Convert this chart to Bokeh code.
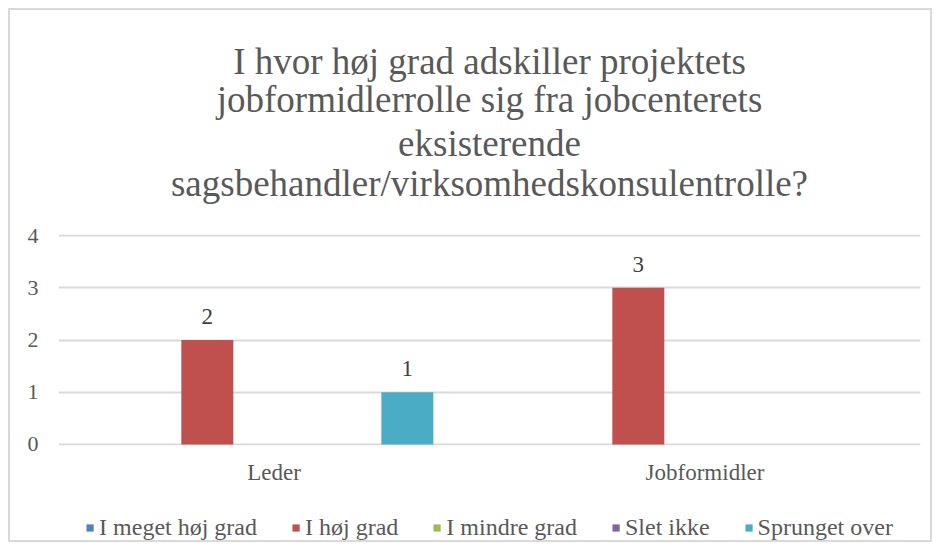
from bokeh.plotting import figure
from bokeh.models import ColumnDataSource, FactorRange, Range1d, LabelSet, Title, Legend
from bokeh.transform import dodge
from bokeh.embed import file_html
from bokeh.resources import INLINE

categories = ["Leder", "Jobformidler"]
series_names = ["I meget høj grad", "I høj grad", "I mindre grad", "Slet ikke", "Sprunget over"]
series_values = {
    "I meget høj grad": [0, 0],
    "I høj grad": [2, 3],
    "I mindre grad": [0, 0],
    "Slet ikke": [0, 0],
    "Sprunget over": [1, 0],
}
colors = ["#4F81BD", "#C0504D", "#9BBB59", "#8064A2", "#4BACC6"]
title_lines = [
    "I hvor høj grad adskiller projektets",
    "jobformidlerrolle sig fra jobcenterets",
    "eksisterende",
    "sagsbehandler/virksomhedskonsulentrolle?",
]
y_ticks = [0, 1, 2, 3, 4]

FONT = "Liberation Serif"
TXT = "#595959"

p = figure(x_range=FactorRange(*categories, range_padding=0), y_range=Range1d(-0.02, 4.02),
           frame_width=862, frame_height=211, output_backend="svg", toolbar_location=None,
           min_border_left=48, min_border_right=10, min_border_top=224, min_border_bottom=100)
p.styles = {"border": "2px solid #d9d9d9", "margin": "8px 0 0 8px",
            "max-height": "534px", "overflow": "hidden"}

# spacer between the plot frame and the title block
p.add_layout(Title(text=" ", text_font_size="26px", standoff=0, offset=0), "above")

p.title.text = title_lines[0]
for line in reversed(title_lines[1:]):
    p.add_layout(Title(text=line), "above")
title_objs = [a for a in p.above if isinstance(a, Title) and a.text.strip()]
for t in [p.title] + title_objs:
    t.align = "center"
    t.text_font = FONT
    t.text_font_size = "37px"
    t.text_font_style = "normal"
    t.text_color = TXT
    t.standoff = 0
    t.offset = -10
# fine vertical spacing of the title lines (line 4, 3, 2 from the frame upward; line 1 outermost)
line_standoffs = [-2, -4, 6]
for t, s in zip(title_objs, line_standoffs):
    t.standoff = s
p.title.standoff = -16

source_data = {"cat": categories}
for name in series_names:
    source_data[name] = series_values[name]
source = ColumnDataSource(source_data)

slot = 0.1547
bar_w = 0.1206
n = len(series_names)
renderers = []
for i, (name, col) in enumerate(zip(series_names, colors)):
    off = (i - (n - 1) / 2) * slot
    r = p.vbar(x=dodge("cat", off, range=p.x_range), top=name, width=bar_w, source=source,
               fill_color=col, line_color=None)
    renderers.append((name, [r]))
    vals = series_values[name]
    keep = [k for k, v in enumerate(vals) if v != 0]
    if keep:
        lsrc = ColumnDataSource({"cat": [categories[k] for k in keep],
                                 "val": [vals[k] for k in keep],
                                 "txt": [str(vals[k]) for k in keep]})
        labels = LabelSet(x=dodge("cat", off, range=p.x_range), y="val", text="txt", source=lsrc,
                          text_align="center", text_baseline="bottom", y_offset=16,
                          text_font=FONT, text_font_size="23px", text_color="#404040")
        p.add_layout(labels)

# axes
p.yaxis.ticker = y_ticks
p.yaxis.axis_line_color = None
p.yaxis.major_tick_line_color = None
p.yaxis.minor_tick_line_color = None
p.yaxis.major_tick_out = 0
p.yaxis.major_tick_in = 0
p.yaxis.major_label_standoff = 20
p.yaxis.major_label_text_font = FONT
p.yaxis.major_label_text_font_size = "22px"
p.yaxis.major_label_text_color = TXT

p.xaxis.axis_line_color = None
p.xaxis.major_tick_line_color = None
p.xaxis.major_tick_out = 0
p.xaxis.major_tick_in = 0
p.xaxis.major_label_standoff = 14
p.xaxis.major_label_text_font = FONT
p.xaxis.major_label_text_font_size = "23px"
p.xaxis.major_label_text_color = TXT

p.xgrid.grid_line_color = None
p.ygrid.grid_line_color = "#d9d9d9"
p.ygrid.grid_line_width = 2
p.outline_line_color = None

spacer = Title(text=" ", text_font_size="9px", standoff=0, offset=0)
p.add_layout(spacer, "below")

legend = Legend(items=renderers, orientation="horizontal", nrows=1, location="top_center",
                label_text_font=FONT, label_text_font_size="24px", label_text_color=TXT,
                glyph_width=9, glyph_height=9, label_standoff=5, spacing=34,
                border_line_color=None, background_fill_alpha=0, margin=3, padding=0)
p.add_layout(legend, "below")

open("out.html", "w").write(file_html(p, INLINE))
